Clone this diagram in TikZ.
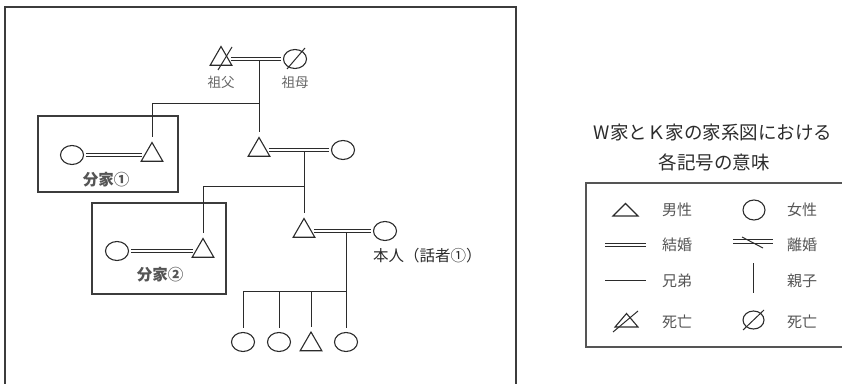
\documentclass[tikz,border=0pt]{standalone}
\usepackage{fontspec}
\newfontfamily\jpfont{Noto Sans CJK JP}
\usetikzlibrary{shapes.geometric,positioning}
\definecolor{ink}{HTML}{2B2B2B}
\definecolor{tagcol}{HTML}{666666}
\definecolor{keycol}{HTML}{555555}
\definecolor{framecol}{HTML}{3C3C3C}
\tikzset{
  male/.style={regular polygon, regular polygon sides=3, draw=ink, line width=1.1pt,
               minimum size=25pt, inner sep=0pt},
  female/.style={ellipse, draw=ink, line width=1.1pt, minimum width=23pt,
                 minimum height=19pt, inner sep=0pt},
  kin/.style={draw=ink, line width=1pt},
  descent/.style={kin, shorten >=4pt},
  marriage/.style={draw=ink, double, double distance=2.4pt, line width=0.9pt,
                   shorten <=2pt, shorten >=2pt},
  houseframe/.style={draw=framecol, line width=1.2pt},
  bigframe/.style={draw=framecol, line width=1.5pt},
  treetag/.style={font=\jpfont\fontsize{13.5}{15}\selectfont, text=tagcol, inner sep=0pt},
  housetag/.style={font=\jpfont\bfseries\fontsize{15.5}{17}\selectfont, text=keycol, inner sep=0pt},
  selftag/.style={font=\jpfont\fontsize{15.5}{17}\selectfont, text=ink, inner sep=0pt},
  keytitle/.style={font=\jpfont\fontsize{18.5}{21}\selectfont, text=ink, inner sep=0pt},
  keytext/.style={font=\jpfont\fontsize{15}{17}\selectfont, text=keycol, inner sep=0pt},
}

\begin{document}
\begin{tikzpicture}[x=1pt, y=-1pt, line cap=butt, line join=miter]
\useasboundingbox (0,0) rectangle (842,383);

% ===================== family tree =====================
\draw[bigframe] (5,384) |- (516,7) -- (516,384);

% generation 1
\node[male]   (gf) at (221,59) {};
\node[female] (gm) at (295,59) {};
\draw[kin] (gf.center) ++(11,-12) -- ++(-14,23);
\draw[kin] (gm.center) ++(10,-11) -- ++(-18,21);
\node[treetag] (gftag) at (221,82) {祖父};
\node[treetag] (gmtag) at (295,82) {祖母};

% generation 2
\node[male]   (s2) at (259,150) {};
\node[female] (w2) at (343,150) {};
\coordinate (mar1) at (259,61);
\coordinate (br1) at (259,103);
\draw[descent] (mar1) -- (s2);

% branch house 1
\draw[houseframe] (38,116) rectangle (178,192);
\node[female] (b1w) at (72,155) {};
\node[male]   (b1h) at (152,155) {};
\draw[descent] (br1) -| (b1h);
\draw[marriage] (b1w) -- (b1h);
\node[housetag] (b1tag) at (106,180) {分家①};

\draw[marriage] (gf) -- (gm);

% generation 3
\node[male]   (self) at (304,231) {};
\node[female] (w3) at (385,231) {};
\coordinate (mar2) at (304,152);
\coordinate (br2) at (304,186);
\draw[descent] (mar2) -- (self);
\draw[marriage] (s2) -- (w2);
\node[selftag, anchor=west] (selftag) at (373,256) {本人（話者①）};

% branch house 2
\draw[houseframe] (92,203) rectangle (226,294);
\node[female] (b2w) at (117,251) {};
\node[male]   (b2h) at (203,251) {};
\draw[descent] (br2) -| (b2h);
\draw[marriage] (b2w) -- (b2h);
\node[housetag] (b2tag) at (160,275) {分家②};

% generation 4
\node[female] (k1) at (243,342) {};
\node[female] (k2) at (279,342) {};
\node[male]   (k3) at (311,344.5) {};
\node[female] (k4) at (346,342) {};
\coordinate (mar3) at (346,233);
\coordinate (br3) at (346,291);
\draw[descent] (mar3) -- (k4);
\draw[descent] (br3) -| (k1);
\draw[descent] (k2 |- br3) -- (k2);
\draw[descent] (k3 |- br3) -- (k3);
\draw[marriage] (self) -- (w3);

% ===================== legend =====================
\node[keytitle] (title1) at (713,132) {W家とＫ家の家系図における};
\node[keytitle] (title2) at (714,162) {各記号の意味};
\draw[houseframe, draw=keycol] (843,183) -| (586,347) -- (843,347);

% row 1
\draw[kin, line width=1.1pt] (613,216) -- (625.5,203.5) -- (638,216) -- cycle;
\node[keytext] (kmale) at (677,210) {男性};
\draw[kin, line width=1.1pt] (754,210) ellipse [x radius=11, y radius=10];
\node[keytext] (kfemale) at (802,210) {女性};
% row 2
\draw[marriage, shorten <=0pt, shorten >=0pt] (605,245) -- (646,245);
\node[keytext] (kwed) at (677,245) {結婚};
\draw[marriage, shorten <=0pt, shorten >=0pt] (733,241.5) -- (773,241.5);
\draw[kin] (742,237) -- (763,248);
\node[keytext] (kdiv) at (802,245) {離婚};
% row 3
\draw[kin] (605,280) -- (646,280);
\node[keytext] (ksib) at (677,281) {兄弟};
\draw[kin] (753,263) -- (753,293);
\node[keytext] (kpar) at (802,281) {親子};
% row 4
\draw[kin, line width=1.1pt] (615,327) -- (626.5,313.5) -- (638,327) -- cycle;
\draw[kin] (638,311) -- (613,332);
\node[keytext] (kdead1) at (677,322) {死亡};
\draw[kin, line width=1.1pt] (753.5,320) ellipse [x radius=10.5, y radius=9];
\draw[kin] (764,310) -- (743,330);
\node[keytext] (kdead2) at (802,322) {死亡};

\end{tikzpicture}
\end{document}
